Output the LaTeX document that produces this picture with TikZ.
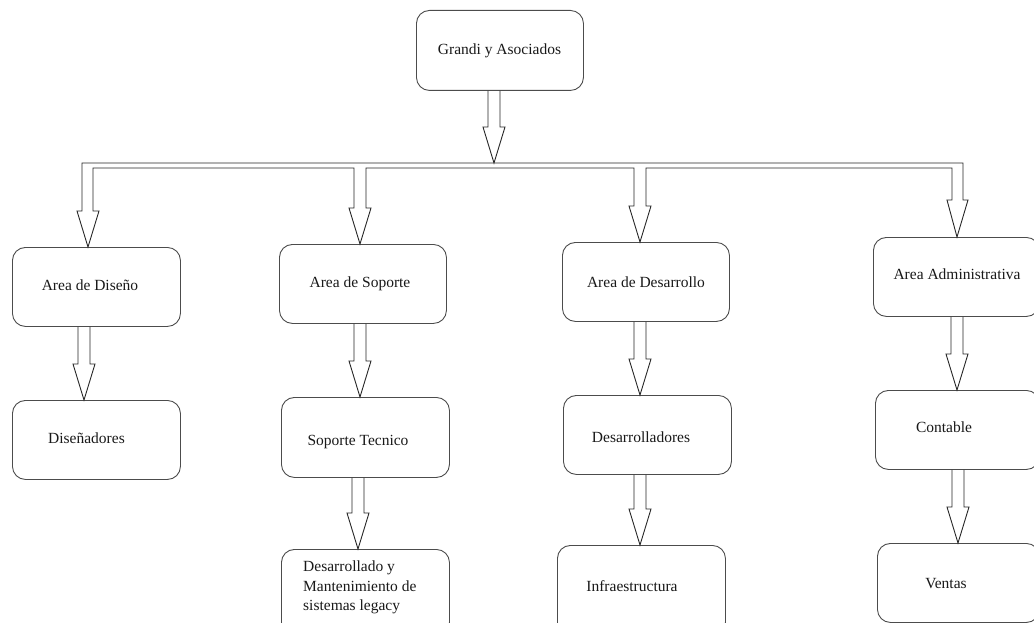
\documentclass[tikz,border=0pt]{standalone}
\usepackage{fontspec}
\setmainfont{Liberation Serif}
\usetikzlibrary{calc}
\tikzset{
  box/.style={draw=black!70, line width=0.9pt, rounded corners=13pt, fill=white,
    inner sep=0pt, anchor=north west},
  txt/.style={inner sep=0pt, anchor=base, font=\fontsize{15.5}{19.5}\selectfont, text=black!90},
  arr/.style={draw=black!85, line width=0.9pt, line join=miter},
}
\newcommand{\boxat}[5]{% name, left, top, right, bottom
  \node[box, minimum width={#4-#2}, minimum height={#5-#3}] (#1) at (#2,#3) {};}
\newcommand{\barrow}[3]{% from, to, x
  \draw[arr] let \p1=(#1.south), \p2=(#2.north) in
    ({#3pt-6pt},\y1) -- ({#3pt-6pt},\y2+36pt) -- ({#3pt-11pt},\y2+36pt) -- (#3pt,\y2)
    -- ({#3pt+11pt},\y2+36pt) -- ({#3pt+6pt},\y2+36pt) -- ({#3pt+6pt},\y1);}
\begin{document}
\begin{tikzpicture}[x=1pt,y=-1pt]
\useasboundingbox (0,0) rectangle (1034,623);
\clip (0,0) rectangle (1034,623);
% boxes
\boxat{G}{416}{10}{583}{90}
\boxat{A1}{12}{247}{180}{326}
\boxat{B1}{12}{400}{180}{479}
\boxat{A2}{279}{244}{446}{323}
\boxat{B2}{281}{397}{449}{477}
\boxat{C2}{281}{549}{449}{635}
\boxat{A3}{562}{242}{729}{321}
\boxat{B3}{563}{395}{731}{474}
\boxat{C3}{557}{545}{725}{635}
\boxat{A4}{873}{237}{1039}{316}
\boxat{B4}{875}{390}{1039}{469}
\boxat{C4}{877}{543}{1039}{622}
% texts
\node[txt] (tG) at (499.5,55) {Grandi y Asociados};
\node[txt] (tA1) at (90,290) {Area de Diseño};
\node[txt] (tB1) at (86.5,443) {Diseñadores};
\node[txt] (tA2) at (360,287) {Area de Soporte};
\node[txt] (tB2) at (358,445) {Soporte Tecnico};
\node[txt, anchor=north west, align=left] (tC2) at (303,561) {Desarrollado y\\Mantenimiento de\\sistemas legacy};
\node[txt] (tA3) at (646,287) {Area de Desarrollo};
\node[txt] (tB3) at (641,442) {Desarrolladores};
\node[txt] (tC3) at (632,591) {Infraestructura};
\node[txt] (tA4) at (957,279) {Area Administrativa};
\node[txt] (tB4) at (944,432) {Contable};
\node[txt] (tC4) at (946,588) {Ventas};
% top arrow to bus
\coordinate (bus) at (494,163);
\draw[arr] let \p1=(G.south), \p2=(bus) in
  (488pt,\y1) -- (488pt,\y2+36pt) -- (483pt,\y2+36pt) -- (494pt,\y2)
  -- (505pt,\y2+36pt) -- (500pt,\y2+36pt) -- (500pt,\y1);
% bus with branch arrows
\draw[arr] let \p1=(A1.north), \p2=(A2.north), \p3=(A3.north), \p4=(A4.north) in
  (77pt,\y1+36pt) -- (88pt,\y1) -- (99pt,\y1+36pt) -- (93pt,\y1+36pt) -- (93pt,-168pt)
  -- (354pt,-168pt) -- (354pt,\y2+36pt) -- (349pt,\y2+36pt) -- (360pt,\y2) -- (371pt,\y2+36pt)
  -- (366pt,\y2+36pt) -- (366pt,-168pt) -- (634pt,-168pt) -- (634pt,\y3+36pt) -- (629pt,\y3+36pt)
  -- (640pt,\y3) -- (651pt,\y3+36pt) -- (646pt,\y3+36pt) -- (646pt,-168pt) -- (952pt,-168pt)
  -- (952pt,\y4+37pt) -- (947pt,\y4+37pt) -- (957pt,\y4) -- (968pt,\y4+37pt) -- (963pt,\y4+37pt)
  -- (963pt,-163pt) -- (82pt,-163pt) -- (82pt,\y1+36pt) -- cycle;
% vertical arrows
\barrow{A1}{B1}{84}
\barrow{A2}{B2}{360}
\barrow{B2}{C2}{358}
\barrow{A3}{B3}{640}
\barrow{B3}{C3}{640}
\barrow{A4}{B4}{957}
\barrow{B4}{C4}{958}
\end{tikzpicture}
\end{document}
